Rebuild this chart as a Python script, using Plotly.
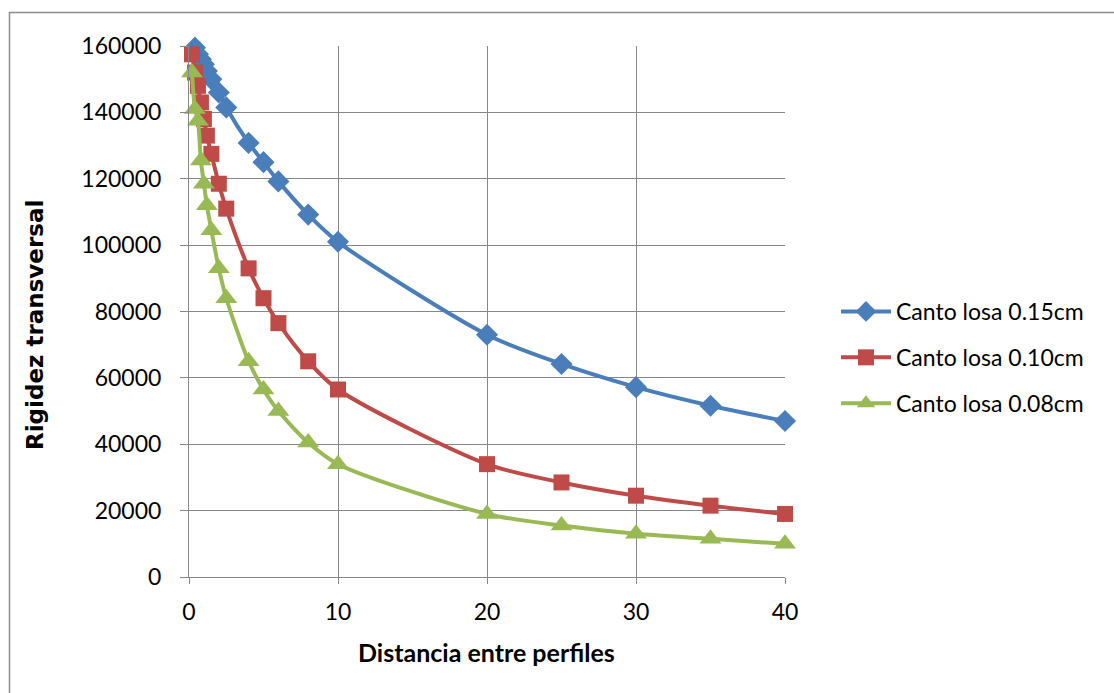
import plotly.graph_objects as go

# Distancia entre perfiles (shared abscissa for the three slab depths)
distancia = [0.2, 0.4, 0.6, 0.8, 1.0, 1.2, 1.5, 2, 2.5, 4, 5, 6, 8, 10, 20, 25, 30, 35, 40]

# Rigidez transversal per slab depth
rigidez_015 = [161300, 159500, 157500, 156000, 154500, 152500, 150000, 146000, 141500,
               130800, 125000, 119200, 109200, 101000, 73000, 64200, 57200, 51600, 47000]
rigidez_010 = [157500, 152000, 148000, 143000, 138000, 133000, 127500, 118500, 111000,
               93000, 84000, 76500, 65000, 56500, 34000, 28500, 24500, 21500, 19000]
rigidez_008 = [152000, 141000, 137500, 125500, 118500, 112000, 104500, 93000, 84000,
               65000, 56500, 50000, 40500, 34000, 19000, 15500, 13000, 11500, 10000]

series_names = ["Canto losa 0.15cm", "Canto losa 0.10cm", "Canto losa 0.08cm"]
x_ticks = [0, 10, 20, 30, 40]
y_ticks = [0, 20000, 40000, 60000, 80000, 100000, 120000, 140000, 160000]

FONT = "Lato, 'Open Sans', sans-serif"
GRID = "#878787"

styles = [
    dict(color="#4A7EBB", symbol="diamond", size=17),
    dict(color="#BE4B48", symbol="square", size=16),
    dict(color="#98B954", symbol="triangle-up", size=19),
]

fig = go.Figure()
for i, (name, ys, st) in enumerate(zip(series_names, [rigidez_015, rigidez_010, rigidez_008], styles)):
    fig.add_trace(go.Scatter(
        x=distancia, y=ys, name=name, mode="lines+markers",
        line=dict(color=st["color"], width=4, shape="spline", smoothing=0.8),
        marker=dict(color=st["color"], symbol=st["symbol"], size=st["size"], line=dict(width=0)),
        cliponaxis=False, legendgroup=f"g{i}",
    ))

L, R, T, B = 189, 329, 46, 116
pw = 1114 - L - R
ph = 693 - T - B

fig.update_layout(
    width=1114, height=693,
    margin=dict(l=L, r=R, t=T, b=B, pad=0),
    paper_bgcolor="white", plot_bgcolor="white",
    font=dict(family=FONT, size=23, color="#000000"),
    showlegend=True,
    legend=dict(
        x=1.0 + (836 - 785) / pw, y=(577 - 290) / ph, xanchor="left", yanchor="top",
        font=dict(size=23, family=FONT), tracegroupgap=13, itemwidth=50,
        bgcolor="rgba(0,0,0,0)",
    ),
    hovermode=False,
    xaxis=dict(
        range=[0, 40], tickvals=x_ticks, showgrid=True, gridcolor=GRID, gridwidth=1,
        showline=True, linecolor=GRID, linewidth=1, zeroline=False,
        ticks="outside", ticklen=6, tickcolor=GRID, ticklabelstandoff=8,
        tickfont=dict(size=23, family=FONT),
    ),
    yaxis=dict(
        range=[0, 160000], tickvals=y_ticks, tickformat="d", showgrid=True,
        gridcolor=GRID, gridwidth=1, showline=True, linecolor=GRID, linewidth=1,
        zeroline=False, ticks="outside", ticklen=8, tickcolor=GRID,
        ticklabelstandoff=14, tickfont=dict(size=23, family=FONT),
    ),
    annotations=[
        dict(text="<b>Distancia entre perfiles</b>", xref="paper", yref="paper",
             x=(486 - L) / pw, y=-(652 - 577) / ph, showarrow=False,
             xanchor="center", yanchor="middle", font=dict(size=25, family=FONT)),
        dict(text="<b>Rigidez transversal</b>", xref="paper", yref="paper",
             x=-(L - 35) / pw, y=(577 - 325) / ph, showarrow=False, textangle=-90,
             xanchor="center", yanchor="middle",
             font=dict(size=23, family="'DejaVu Sans', Verdana, sans-serif")),
    ],
    shapes=[
        dict(type="rect", xref="paper", yref="paper",
             x0=-(L - 9.5) / pw, x1=1.7, y0=-0.4, y1=(577 - 12.5) / ph,
             line=dict(color="#8C8C8C", width=1.5), fillcolor="rgba(0,0,0,0)", layer="below"),
    ],
)

fig.write_html("out.html")
